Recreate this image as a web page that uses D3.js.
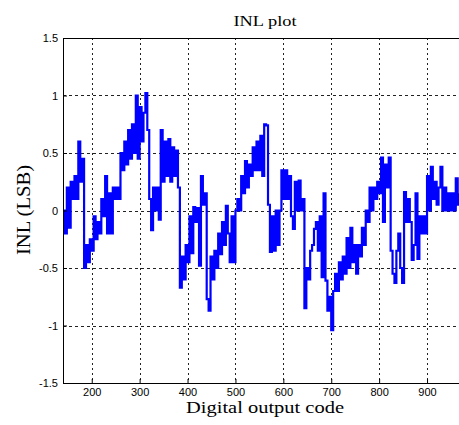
<!DOCTYPE html>
<html>
<head>
<meta charset="utf-8">
<script src="https://cdn.jsdelivr.net/npm/d3@7"></script>
<style>
  html, body { margin: 0; padding: 0; background: #fff; }
  svg { display: block; }
</style>
</head>
<body>
<svg id="chart" width="459" height="425"></svg>
<script>
// ---- data ----
const codes = [
  140,144,148,152,156,160,164,168,172,176,180,184,188,192,196,200,204,208,212,216,
  220,224,228,232,236,240,244,248,252,256,260,264,268,272,276,280,284,288,292,296,
  300,304,308,312,316,320,324,328,332,336,340,344,348,352,356,360,364,368,372,376,
  380,384,388,392,396,400,404,408,412,416,420,424,428,432,436,440,444,448,452,456,
  460,464,468,472,476,480,484,488,492,496,500,504,508,512,516,520,524,528,532,536,
  540,544,548,552,556,560,564,568,572,576,580,584,588,592,596,600,604,608,612,616,
  620,624,628,632,636,640,644,648,652,656,660,664,668,672,676,680,684,688,692,696,
  700,704,708,712,716,720,724,728,732,736,740,744,748,752,756,760,764,768,772,776,
  780,784,788,792,796,800,804,808,812,816,820,824,828,832,836,840,844,848,852,856,
  860,864,868,872,876,880,884,888,892,896,900,904,908,912,916,920,924,928,932,936,
  940,944,948,952,956,960,964,968
];
const inl = [
  0.0,-0.2,0.2,-0.15,0.25,0.1,0.3,0.1,0.6,0.25,0.45,-0.5,-0.3,-0.45,-0.25,-0.35,-0.05,-0.25,-0.1,-0.2,
  0.1,-0.05,0.3,-0.2,0.15,-0.2,0.2,0.1,0.2,0.1,0.5,0.35,0.6,0.4,0.7,0.45,0.75,0.5,1.0,0.45,
  0.9,0.6,0.85,1.02,0.7,0.1,-0.17,0.2,0.0,0.2,-0.08,0.7,0.25,0.6,0.3,0.62,0.25,0.55,0.3,0.52,
  0.2,-0.67,-0.4,-0.6,-0.3,-0.45,-0.05,-0.37,0.03,-0.1,0.02,-0.48,0.3,0.05,0.15,-0.77,-0.87,-0.4,-0.6,-0.35,
  -0.5,-0.2,-0.38,-0.1,-0.3,0.04,-0.2,-0.45,-0.05,-0.45,0.0,0.1,0.0,0.3,0.15,0.43,0.2,0.4,0.3,0.55,
  0.35,0.6,0.35,0.65,0.3,0.75,0.74,0.05,-0.36,-0.05,-0.35,0.0,-0.3,0.0,0.35,0.1,0.35,0.1,0.3,-0.05,
  -0.16,0.25,0.0,0.26,0.0,0.1,-0.85,-0.5,-0.6,-0.35,-0.3,-0.16,-0.1,-0.35,-0.05,-0.58,0.15,-0.61,-0.87,-0.75,
  -1.04,-0.7,-0.55,-0.7,-0.45,-0.6,-0.4,-0.55,-0.24,-0.5,-0.15,-0.45,-0.3,-0.55,-0.3,-0.4,-0.15,-0.3,0.0,-0.1,
  0.2,0.0,0.2,0.1,0.25,0.15,0.46,-0.1,0.4,0.2,0.46,-0.35,-0.55,-0.63,-0.35,-0.2,-0.5,-0.63,0.16,-0.1,
  0.1,-0.1,-0.43,-0.3,0.15,-0.42,-0.05,-0.2,-0.05,-0.2,0.3,0.0,0.38,0.1,0.25,0.05,0.2,0.38,0.0,0.2,
  0.0,0.15,0.0,0.15,0.0,0.28,0.05,0.15
];
const xTicks = [200, 300, 400, 500, 600, 700, 800, 900];
const yTicks = [-1.5, -1, -0.5, 0, 0.5, 1, 1.5];
const xDomain = [140, 1023];
const yDomain = [-1.5, 1.5];
const titleText = "INL plot";
const xLabel = "Digital output code";
const yLabel = "INL (LSB)";

// ---- layout ----
const svg = d3.select("#chart");
const pLeft = 63, pTop = 38, pBottom = 383;
const pRight = pLeft + (xDomain[1] - xDomain[0]) * 0.479;

const x = d3.scaleLinear().domain(xDomain).range([pLeft, pRight]);
const y = d3.scaleLinear().domain(yDomain).range([pBottom, pTop]);

svg.append("defs").append("clipPath").attr("id", "plotclip")
  .append("rect").attr("x", pLeft).attr("y", pTop).attr("width", pRight - pLeft).attr("height", pBottom - pTop);

// grid
const grid = svg.append("g");
grid.selectAll("line.gx").data(xTicks).join("line")
  .attr("x1", d => Math.round(x(d)) + 0.5).attr("x2", d => Math.round(x(d)) + 0.5)
  .attr("y1", pTop).attr("y2", pBottom)
  .attr("stroke", "#222").attr("stroke-width", 1).attr("stroke-dasharray", "2,3");
grid.selectAll("line.gy").data(yTicks.filter(d => d > yDomain[0] && d < yDomain[1])).join("line")
  .attr("x1", pLeft).attr("x2", pRight)
  .attr("y1", d => Math.round(y(d)) + 0.5).attr("y2", d => Math.round(y(d)) + 0.5)
  .attr("stroke", "#222").attr("stroke-width", 1).attr("stroke-dasharray", "3,3");

// data line
const pts = codes.map((c, i) => [c, inl[i]]);
const line = d3.line().x(d => x(d[0])).y(d => y(d[1])).curve(d3.curveStepAfter);
svg.append("path").datum(pts)
  .attr("clip-path", "url(#plotclip)")
  .attr("d", line)
  .attr("fill", "none").attr("stroke", "#0000ff").attr("stroke-width", 2.2)
  .attr("stroke-linejoin", "miter");

// axes (inward ticks, MATLAB style)
const xAxis = d3.axisBottom(x).tickValues(xTicks).tickSizeInner(-4).tickSizeOuter(0).tickPadding(5);
const yAxis = d3.axisLeft(y).tickValues(yTicks).tickSizeInner(-4).tickSizeOuter(0).tickPadding(5)
  .tickFormat(d => String(d));
const gx = svg.append("g").attr("transform", `translate(0,${pBottom})`).call(xAxis);
const gy = svg.append("g").attr("transform", `translate(${pLeft},0)`).call(yAxis);
[gx, gy].forEach(g => {
  g.selectAll("text").attr("font-family", "Liberation Sans, Arial, sans-serif").attr("font-size", 11).attr("fill", "#000");
  g.selectAll("line").attr("stroke", "#000");
  g.select(".domain").attr("stroke", "#000");
});

// top frame line
svg.append("line").attr("x1", pLeft).attr("x2", pRight).attr("y1", pTop + 0.5).attr("y2", pTop + 0.5)
  .attr("stroke", "#000").attr("stroke-width", 1);

// texts
const serif = "Liberation Serif, Times New Roman, serif";
svg.append("text").attr("x", 265).attr("y", 26).attr("text-anchor", "middle")
  .attr("font-family", serif).attr("font-size", 15)
  .attr("textLength", 63).attr("lengthAdjust", "spacingAndGlyphs")
  .text(titleText);
svg.append("text").attr("x", 265).attr("y", 413).attr("text-anchor", "middle")
  .attr("font-family", serif).attr("font-size", 17)
  .attr("textLength", 158).attr("lengthAdjust", "spacingAndGlyphs")
  .text(xLabel);
svg.append("text").attr("transform", "translate(30,210) rotate(-90)").attr("text-anchor", "middle")
  .attr("font-family", serif).attr("font-size", 18)
  .attr("textLength", 90).attr("lengthAdjust", "spacingAndGlyphs")
  .text(yLabel);
</script>
</body>
</html>
